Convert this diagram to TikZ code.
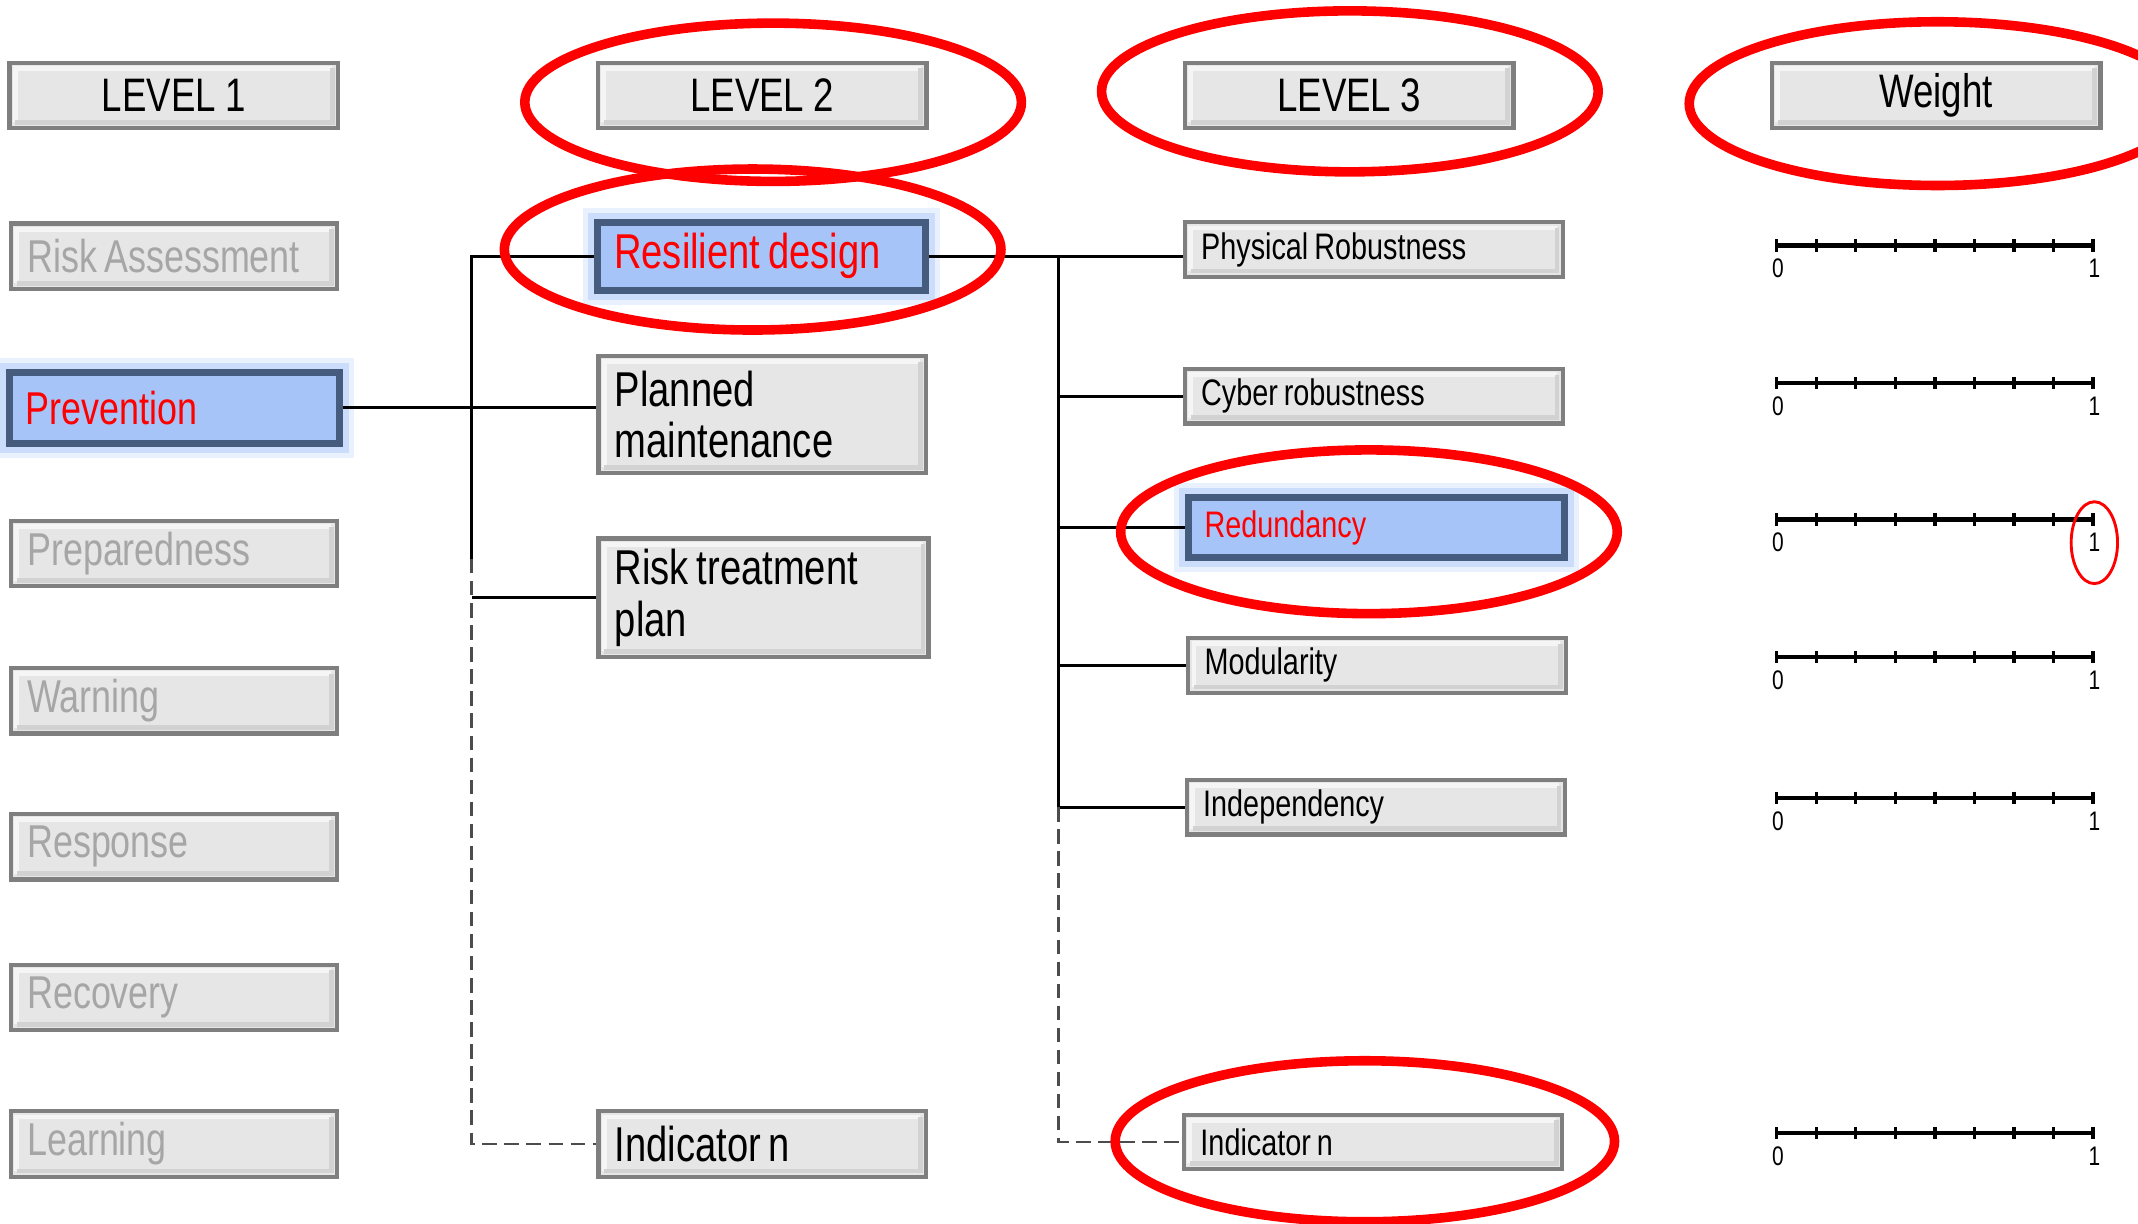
\documentclass[tikz,border=0pt]{standalone}
\usepackage{fontspec}
\setmainfont{Liberation Sans}[FakeStretch=0.78]
% align=left/center in TikZ sets \spaceskip, so the narrower word space is set inside each node
\newcommand\tightspace{\spaceskip=0.16em plus 0.05em\relax}
\definecolor{boxfill}{HTML}{E6E6E6}
\definecolor{boxedge}{HTML}{7F7F7F}
\definecolor{dimtext}{HTML}{A6A6A6}
\definecolor{hlfill}{HTML}{A6C4F8}
\definecolor{hledge}{HTML}{465C7E}
\definecolor{hlglow}{HTML}{A9C6FA}
\definecolor{ringred}{HTML}{FF0000}
\begin{document}
\begin{tikzpicture}[x=0.01cm,y=-0.01cm,
  box/.style={draw=boxedge, fill=boxfill, line width=0.9pt, inner xsep=0.12cm, inner ysep=0pt,
    align=left, anchor=center, execute at begin node=\tightspace,
    path picture={
      \draw[line width=1pt, white!60!boxfill]
        ([shift={(1.2pt,1.2pt)}]path picture bounding box.south west) |-
        ([shift={(-1.2pt,-1.2pt)}]path picture bounding box.north east);
      \draw[line width=1pt, gray!35]
        ([shift={(1.2pt,1.2pt)}]path picture bounding box.south west) -|
        ([shift={(-1.2pt,-1.2pt)}]path picture bounding box.north east);
    }},
  hl/.style={draw=hledge, fill=hlfill, line width=1.5pt, inner xsep=0.12cm, inner ysep=0pt,
    align=left, anchor=center, text=ringred, execute at begin node=\tightspace,
    preaction={draw=hlglow, line width=6pt, opacity=.25},
    preaction={draw=hlglow, line width=4pt, opacity=.45}},
  head/.style={box, align=center, minimum height=0.48cm, text width=2.17cm, font=\fontsize{9.8}{10}\selectfont},
  one/.style={box, minimum height=0.48cm, text width=2.15cm, font=\fontsize{9.6}{10}\selectfont, text=dimtext},
  two/.style={box, text width=2.16cm, font=\fontsize{10.2}{10.8}\selectfont},
  three/.style={box, minimum height=0.40cm, text width=2.53cm, font=\fontsize{7.7}{8}\selectfont},
  link/.style={line width=0.6pt, black},
  dlink/.style={line width=0.6pt, gray!60!black, dash pattern=on 3pt off 1.6pt},
  ring/.style={draw=ringred, line width=2pt},
  axis/.style={line width=0.9pt, black},
  tickmark/.style={line width=0.7pt, black},
  axlabel/.style={font=\fontsize{5.6}{6}\selectfont, inner sep=0pt}]

\useasboundingbox (0,0) rectangle (1568,897);

% column headers
\node[head] (h1) at (127.5,70) {LEVEL 1};
\node[head] (h2) at (559,70) {LEVEL 2};
\node[head] (h3) at (989.5,70) {LEVEL 3};
\node[head] (hw) at (1420,70) {Weight};

% level 1
\node[one] (ra)    at (127.5,188)   {Risk Assessment};
\node[hl, minimum height=0.52cm, text width=2.18cm, font=\fontsize{9.6}{10}\selectfont]
             (prev)  at (128,299)     {Prevention};
\node[one] (prep)  at (127.5,406)   {Preparedness};
\node[one] (warn)  at (127.5,514)   {Warning};
\node[one] (resp)  at (127.5,621)   {Response};
\node[one] (reco)  at (127.5,731.5) {Recovery};
\node[one] (learn) at (127.5,839)   {Learning};

% level 2
\node[hl, minimum height=0.50cm, text width=2.16cm, font=\fontsize{10.2}{10.8}\selectfont]
             (resil) at (558.5,188) {Resilient design};
\node[two, minimum height=0.86cm] (plan) at (559,304) {Planned\\maintenance};
\node[two, minimum height=0.87cm, text width=2.18cm] (rtp) at (560,438.5) {Risk treatment\\plan};
\node[two, minimum height=0.48cm] (ind2) at (559,839) {Indicator n};

% level 3
\node[three] (phys)  at (1007.5,183)   {Physical Robustness};
\node[three] (cyber) at (1007.5,290.5) {Cyber robustness};
\node[hl, minimum height=0.44cm, text width=2.52cm, font=\fontsize{7.7}{8}\selectfont]
             (red)   at (1009.5,387)   {Redundancy};
\node[three] (mod)   at (1010,488)     {Modularity};
\node[three] (indep) at (1009,592)     {Independency};
\node[three] (ind3)  at (1007,837.5)   {Indicator n};

% tree from level 1 to level 2
\coordinate (t1) at (346,0);
\coordinate (t1b) at (346,410);
\draw[link] (prev.east) -- (plan.west |- prev.east);
\draw[link] (resil.west) -- (t1 |- resil.west) -- (t1b);
\draw[link] (t1 |- rtp.west) -- (rtp.west);
\draw[dlink] (t1b) -- (t1 |- ind2.west) -- (ind2.west);

% tree from level 2 to level 3
\coordinate (t2) at (776,0);
\draw[link] (resil.east) -- (phys.west |- resil.east);
\draw[link] (t2 |- resil.east) -- (t2 |- indep.west);
\draw[link] (t2 |- cyber.west) -- (cyber.west);
\draw[link] (t2 |- red.west) -- (red.west);
\draw[link] (t2 |- mod.west) -- (mod.west);
\draw[link] (t2 |- indep.west) -- (indep.west);
\draw[dlink] (t2 |- indep.west) -- (t2 |- ind3.west) -- (ind3.west);

% weight scales from 0 to 1
\foreach \yy in {180,281,381,482,585,831} {
  \draw[axis] (1303,\yy) -- (1535,\yy);
  \foreach \i in {0,...,8}
    \draw[tickmark] (1303+29*\i,\yy-4.5) -- (1303+29*\i,\yy+4.5);
  \node[axlabel] (zero-\yy) at (1304,\yy+17) {0};
  \node[axlabel] (one-\yy)  at (1536,\yy+17) {1};
}

% red rings
\draw[ring] (567,75)   ellipse [x radius=1.82cm, y radius=0.58cm];
\draw[ring] (552,183)  ellipse [x radius=1.82cm, y radius=0.59cm];
\draw[ring] (990,67)   ellipse [x radius=1.82cm, y radius=0.59cm];
\draw[ring] (1421,76)  ellipse [x radius=1.82cm, y radius=0.60cm];
\draw[ring] (1004,390) ellipse [x radius=1.82cm, y radius=0.60cm];
\draw[ring] (1001,837) ellipse [x radius=1.83cm, y radius=0.59cm];
\draw[draw=ringred, line width=0.6pt] (one-381) ellipse [x radius=0.17cm, y radius=0.30cm];
\end{tikzpicture}
\end{document}
